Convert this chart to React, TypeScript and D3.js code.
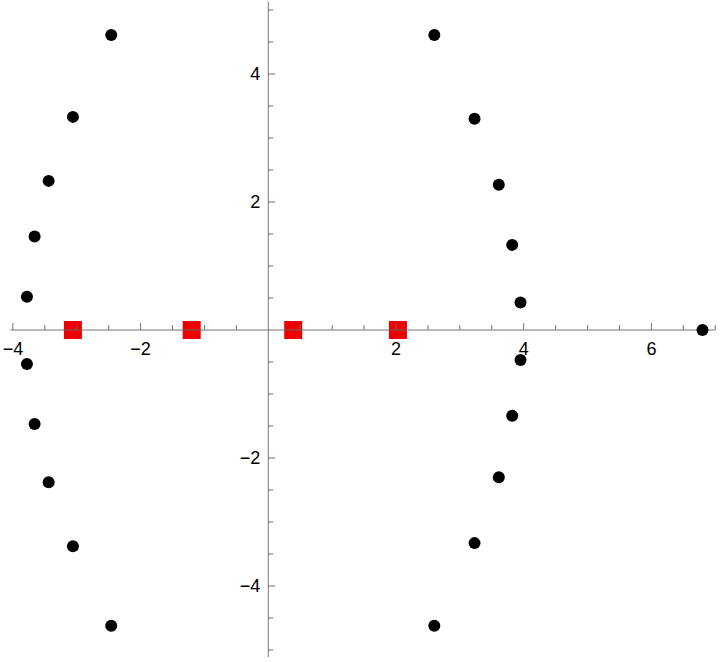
import React from "react";
import * as d3 from "d3";

const blackX = [-2.46, -3.06, -3.44, -3.66, -3.78, -3.78, -3.66, -3.44, -3.06, -2.46,
  2.60, 3.23, 3.61, 3.82, 3.95, 3.95, 3.82, 3.61, 3.23, 2.60, 6.80];
const blackY = [4.61, 3.33, 2.33, 1.46, 0.52, -0.53, -1.47, -2.38, -3.38, -4.62,
  4.61, 3.30, 2.27, 1.33, 0.43, -0.47, -1.34, -2.30, -3.33, -4.62, 0];
const redX = [-3.06, -1.20, 0.39, 2.03];
const redY = [0, 0, 0, 0];
const xTicks = [-4, -2, 2, 4, 6];
const yTicks = [-4, -2, 2, 4];

const W = 720, H = 662;
const x = d3.scaleLinear().domain([0, 6]).range([268.3, 651.4]);
const y = d3.scaleLinear().domain([0, 4]).range([330, 74]);

const axisColor = "#666";
const fmt = (v: number) => (v < 0 ? "\u2212" + Math.abs(v) : String(v));

export default function App() {
  const xMinor = d3.range(-4, 7.01, 0.5).filter((v) => Math.abs(v) > 1e-9 && !xTicks.includes(v));
  const yMinor = d3.range(-5, 5.01, 0.5).filter((v) => Math.abs(v) > 1e-9 && !yTicks.includes(v));
  return (
    <svg width={W} height={H} style={{ position: "absolute", left: 0, top: 0, background: "#fff" }}
      fontFamily="Liberation Sans, Arial, sans-serif">
      {redX.map((v, i) => (
        <rect key={"r" + i} x={x(v) - 9} y={y(redY[i]) - 9} width={18} height={18} fill="#ee0000" />
      ))}
      <g stroke={axisColor} strokeWidth={1} opacity={0.9}>
        <line x1={x(-4.04)} x2={x(7.0)} y1={y(0)} y2={y(0)} />
        <line x1={x(0)} x2={x(0)} y1={y(5.13)} y2={y(-5.11)} />
        {xTicks.map((v) => (
          <line key={"xt" + v} x1={x(v)} x2={x(v)} y1={y(0)} y2={y(0) - 7} />
        ))}
        {xMinor.map((v) => (
          <line key={"xm" + v} x1={x(v)} x2={x(v)} y1={y(0)} y2={y(0) - 5} />
        ))}
        {yTicks.map((v) => (
          <line key={"yt" + v} x1={x(0)} x2={x(0) + 7} y1={y(v)} y2={y(v)} />
        ))}
        {yMinor.map((v) => (
          <line key={"ym" + v} x1={x(0)} x2={x(0) + 5} y1={y(v)} y2={y(v)} />
        ))}
      </g>
      <g fontSize={18} fill="#000">
        {xTicks.map((v) => (
          <text key={"xl" + v} x={x(v)} y={y(0) + 25} textAnchor="middle">{fmt(v)}</text>
        ))}
        {yTicks.map((v) => (
          <text key={"yl" + v} x={x(0) - 8} y={y(v)} textAnchor="end" dominantBaseline="central">{fmt(v)}</text>
        ))}
      </g>
      {blackX.map((v, i) => (
        <circle key={"b" + i} cx={x(v)} cy={y(blackY[i])} r={6} fill="#000" />
      ))}
    </svg>
  );
}
